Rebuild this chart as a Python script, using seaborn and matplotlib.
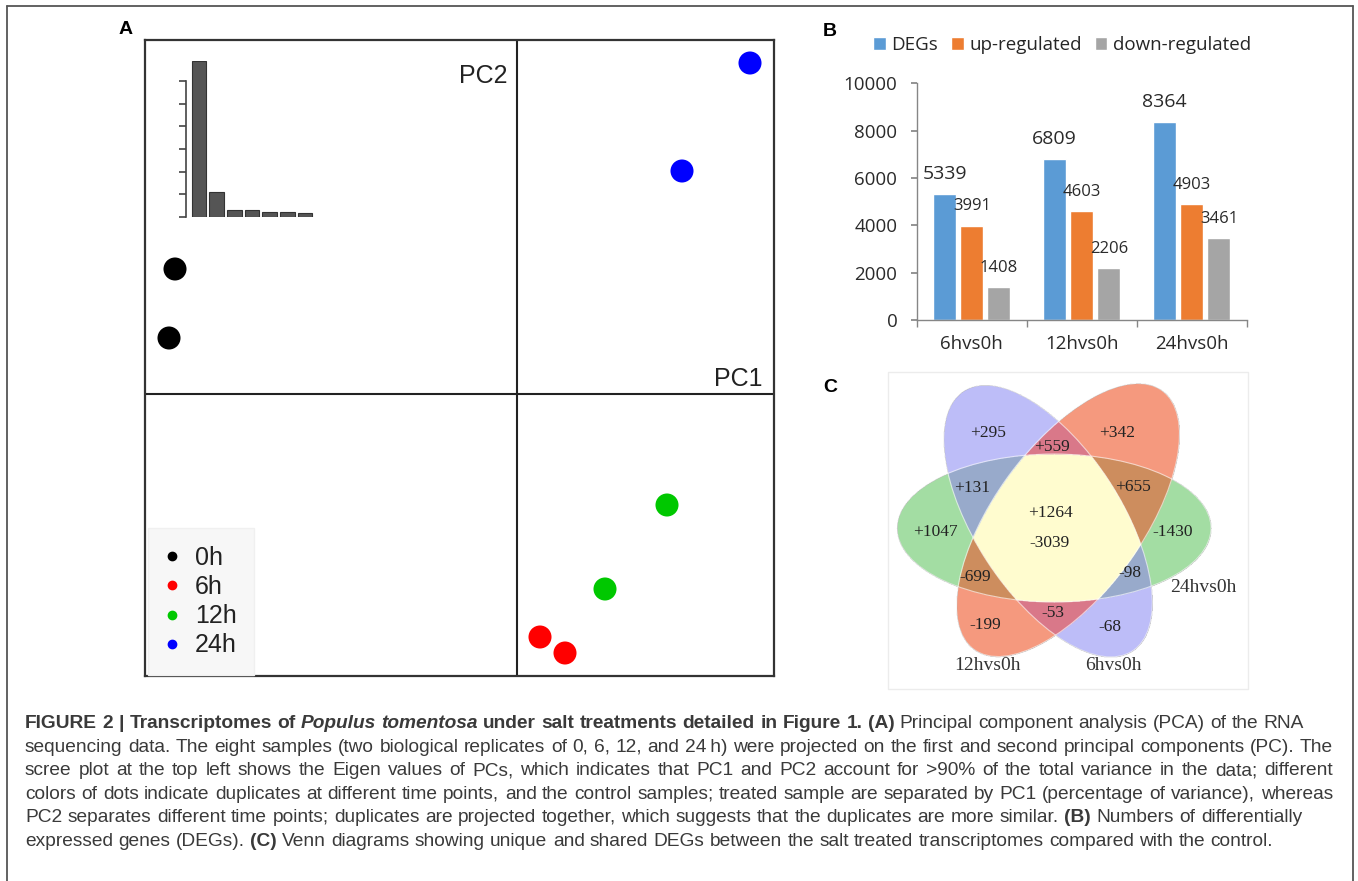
import numpy as np
import pandas as pd
import seaborn as sns
import matplotlib.pyplot as plt
from matplotlib.lines import Line2D
from matplotlib.patches import Ellipse, Rectangle
from matplotlib.transforms import IdentityTransform

# --- panel A: PCA scores of the eight samples
pc_time = ["0h", "0h", "6h", "6h", "12h", "12h", "24h", "24h"]
pc1 = [-34.2, -34.8, 2.3, 4.8, 8.8, 15.0, 16.5, 23.3]
pc2 = [12.5, 5.6, -24.3, -25.9, -19.5, -11.1, 22.3, 33.1]
time_colors = {"0h": "black", "6h": "#FF0000", "12h": "#00C800", "24h": "#0000FF"}

# scree plot (eigen values of the PCs)
pc_names = ["PC1", "PC2", "PC3", "PC4", "PC5", "PC6", "PC7"]
eigen = [6.86, 1.12, 0.32, 0.32, 0.23, 0.23, 0.16]

# --- panel B: numbers of DEGs
comparisons = ["6hvs0h", "12hvs0h", "24hvs0h"]
degs = [5339, 6809, 8364]
up_reg = [3991, 4603, 4903]
down_reg = [1408, 2206, 3461]
deg_types = ["DEGs", "up-regulated", "down-regulated"]
deg_colors = ["#5B9BD5", "#ED7D31", "#A5A5A5"]

# --- panel C: venn counts (up / down in each region)
venn_sets = ["6hvs0h", "12hvs0h", "24hvs0h"]
venn_counts = ["+295", "-68", "+342", "-199", "+1047", "-1430", "+559", "-53",
               "+131", "-98", "+655", "-699", "+1264", "-3039"]
venn_xy = [(988, 433), (1110, 627), (1117, 433), (985, 625), (935, 532), (1173, 532),
           (1052, 447), (1053, 613), (972, 488), (1130, 573), (1133, 487), (975, 577),
           (1050, 513), (1050, 543)]
venn_set_xy = [(1113, 665), (987, 665), (1203, 588)]

caption = [
    ([("FIGURE 2 | Transcriptomes of", "b"), ("Populus tomentosa", "bi"),
      ("under salt treatments detailed in Figure 1. (A)", "b"),
      ("Principal component analysis (PCA) of the RNA", "n")], 1304),
    ([("sequencing data. The eight samples (two biological replicates of 0, 6, 12, and 24\u2009h) "
       "were projected on the first and second principal components (PC). The", "n")], 1333),
    ([("scree plot at the top left shows the Eigen values of PCs, which indicates that PC1 and PC2 "
       "account for >90% of the total variance in the data; different", "n")], 1333),
    ([("colors of dots indicate duplicates at different time points, and the control samples; "
       "treated sample are separated by PC1 (percentage of variance), whereas", "n")], 1333),
    ([("PC2 separates different time points; duplicates are projected together, which suggests "
       "that the duplicates are more similar.", "n"), ("(B)", "b"),
      ("Numbers of differentially", "n")], 1302),
    ([("expressed genes (DEGs).", "n"), ("(C)", "b"),
      ("Venn diagrams showing unique and shared DEGs between the salt treated transcriptomes "
       "compared with the control.", "n")], None),
]

sns.set_theme(style="white")
plt.rcParams["font.family"] = ["Liberation Sans", "DejaVu Sans"]

W, H = 1358, 881
fig = plt.figure(figsize=(W / 100, H / 100), dpi=100)


def box(l, t, r, b):
    return [l / W, 1 - b / H, (r - l) / W, (b - t) / H]


# outer frame of the figure
for xs, ys in [((7, 7), (6, H)), ((7, 1353), (6, 6)), ((1353, 1353), (6, H))]:
    fig.add_artist(Line2D([x / W for x in xs], [1 - y / H for y in ys],
                          color="#555555", lw=1.3))

# ---------------- panel A
axA = fig.add_axes(box(145, 40, 774, 676))
sns.scatterplot(x=pc1, y=pc2, hue=pc_time, palette=time_colors, s=275,
                linewidth=0, legend=False, ax=axA, zorder=3)
axA.set_xlim(-37.2, 25.7)
axA.set_ylim(-28.2, 35.4)
axA.axhline(0, color="#222222", lw=1.5)
axA.axvline(0, color="#222222", lw=1.5)
axA.set_xticks([])
axA.set_yticks([])
for sp in axA.spines.values():
    sp.set_color("#333333")
    sp.set_linewidth(1.6)
axA.text(0.577, 0.943, "PC2", transform=axA.transAxes, ha="right", va="center",
         fontsize=18, color="#222222")
axA.text(0.9825, 0.467, "PC1", transform=axA.transAxes, ha="right", va="center",
         fontsize=18, color="#222222")
handles = [Line2D([], [], ls="", marker="o", markersize=6, color=time_colors[k])
           for k in time_colors]
leg = axA.legend(handles, list(time_colors), loc="lower left",
                 bbox_to_anchor=(3 / 629, 1 / 636), borderaxespad=0, fontsize=18,
                 borderpad=0.7, handlelength=0.5, handletextpad=0.68,
                 labelspacing=0.21, fancybox=False, framealpha=1)
leg.get_frame().set_facecolor("#F7F7F7")
leg.get_frame().set_edgecolor("#F0F0F0")
for t in leg.get_texts():
    t.set_color("#222222")

# scree inset
axS = fig.add_axes(box(186, 61, 314, 217))
sns.barplot(x=pc_names, y=eigen, color="#555555", width=0.82, saturation=1,
            edgecolor="#333333", linewidth=0.8, ax=axS)
axS.set_xlim(-0.73, 6.5)
axS.set_ylim(0, 6.88)
axS.patch.set_alpha(0)
for s in ["top", "right", "bottom"]:
    axS.spines[s].set_visible(False)
axS.spines["left"].set_bounds(0, 6)
axS.spines["left"].set_color("#444444")
axS.spines["left"].set_linewidth(1.2)
axS.set_yticks(range(7))
axS.set_yticklabels([])
axS.set_xticks([])
axS.tick_params(axis="y", left=True, length=5, width=1.2, color="#444444", direction="out")
axS.set_xlabel("")
axS.set_ylabel("")

# ---------------- panel B
df = pd.DataFrame({
    "comparison": comparisons * 3,
    "type": [t for t in deg_types for _ in comparisons],
    "count": degs + up_reg + down_reg,
})
axB = fig.add_axes(box(916.7, 83.3, 1246.7, 320))
sns.barplot(df, x="comparison", y="count", hue="type", palette=deg_colors,
            width=0.74, gap=0.15, saturation=1, ax=axB)
axB.set_ylim(0, 10000)
axB.set_xlim(-0.5, 2.5)
axB.set_yticks(range(0, 10001, 2000))
axB.set_xlabel("")
axB.set_ylabel("")
for s in ["top", "right"]:
    axB.spines[s].set_visible(False)
for s in ["left", "bottom"]:
    axB.spines[s].set_color("#868686")
    axB.spines[s].set_linewidth(1.0)
axB.set_xticks([-0.5, 0.5, 1.5, 2.5], minor=True)
axB.tick_params(axis="x", which="minor", bottom=True, length=5, color="#868686")
axB.tick_params(axis="x", which="major", length=0, pad=11)
axB.tick_params(axis="y", left=True, length=4, color="#868686", pad=10)
for lab in axB.get_xticklabels() + axB.get_yticklabels():
    lab.set_fontfamily("Open Sans")
    lab.set_fontsize(13.5)
    lab.set_color("#2a2a2a")
for cont, fs in zip(axB.containers, [14, 12, 12]):
    axB.bar_label(cont, fontsize=fs, padding=8, color="#2a2a2a", family="Open Sans")
sns.move_legend(axB, "center left", bbox_to_anchor=(873 / W, 1 - 45 / H),
                bbox_transform=fig.transFigure, ncol=3, title=None, frameon=False,
                handlelength=0.67, handleheight=0.67, handletextpad=0.3,
                columnspacing=0.7, borderpad=0, borderaxespad=0,
                prop={"family": "Open Sans", "size": 13.5})

# ---------------- panel C (venn)
axC = fig.add_axes(box(880, 370, 1260, 700))
axC.set_xlim(880, 1260)
axC.set_ylim(700, 370)
axC.axis("off")

ellipses = [(1048, 521, 155, 73, 57), (1068, 520, 160, 74, -54), (1054, 528, 157, 74, 0)]
gx, gy = np.meshgrid(np.arange(880, 1260, 0.5), np.arange(370, 700, 0.5))
code = np.zeros(gx.shape, dtype=int)
for i, (cx, cy, a, b, ang) in enumerate(ellipses):
    th = np.deg2rad(ang)
    u = (gx - cx) * np.cos(th) + (gy - cy) * np.sin(th)
    v = -(gx - cx) * np.sin(th) + (gy - cy) * np.cos(th)
    code += ((u / a) ** 2 + (v / b) ** 2 <= 1).astype(int) << i
region_colors = {1: "#BDBDF8", 2: "#F59A7E", 4: "#A4DDA4", 3: "#D9788A",
                 5: "#98AACB", 6: "#CD8D5E", 7: "#FFFDCF"}
img = np.zeros(gx.shape + (4,))
for k, c in region_colors.items():
    img[code == k] = plt.matplotlib.colors.to_rgba(c)
axC.imshow(img, extent=(880, 1260, 700, 370), interpolation="antialiased", zorder=1)
for cx, cy, a, b, ang in ellipses:
    axC.add_patch(Ellipse((cx, cy), 2 * a, 2 * b, angle=ang, fill=False,
                          edgecolor="white", lw=0.8, alpha=0.6, zorder=2))
axC.add_patch(Rectangle((888, 372), 360, 317, fill=False, edgecolor="#ECECEC", lw=1))
for lab, (x, y) in zip(venn_counts, venn_xy):
    axC.text(x, y, lab, ha="center", va="center", fontsize=12.5,
             family="Liberation Serif", color="#222222", zorder=3)
for lab, (x, y) in zip(venn_sets, venn_set_xy):
    axC.text(x, y, lab, ha="center", va="center", fontsize=14,
             family="Liberation Serif", color="#333333", zorder=3)

# panel letters
for letter, (x, y) in zip("ABC", [(126, 30), (830, 31), (830, 388)]):
    fig.text(x / W, 1 - y / H, letter, ha="center", va="center", fontsize=14,
             fontweight="bold", color="black")

# ---------------- caption, justified line by line
renderer = fig.canvas.get_renderer()
size = 13.8
space = size * 100 / 72 * 0.278
for n, (segments, right) in enumerate(caption):
    y_base = 728 + n * 23.6
    arts = []
    for txt, style in segments:
        for w in txt.split(" "):
            t = fig.text(0, H - y_base, w, transform=IdentityTransform(), fontsize=size,
                         fontweight="bold" if "b" in style else "normal",
                         fontstyle="italic" if "i" in style else "normal",
                         family=["Liberation Sans", "DejaVu Sans"],
                         color="#3a3a3a", va="baseline", ha="left")
            arts.append(t)
    widths = [t.get_window_extent(renderer).width for t in arts]
    if right is None:
        gap = space
    else:
        gap = max((right - 25 - sum(widths)) / (len(arts) - 1), 0.6 * space)
    x = 25
    for t, w in zip(arts, widths):
        t.set_x(x)
        x += w + gap

fig.savefig("out.png", dpi=100)
